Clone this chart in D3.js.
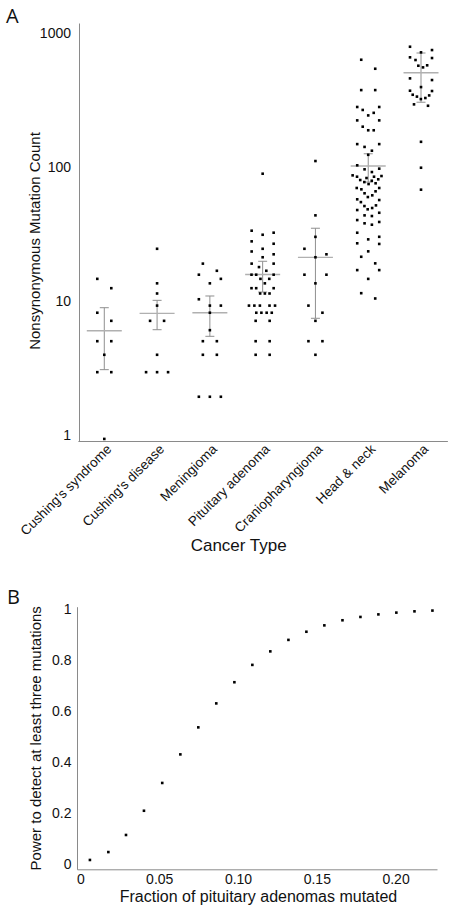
<!DOCTYPE html>
<html>
<head>
<meta charset="utf-8">
<script src="https://cdn.jsdelivr.net/npm/d3@7"></script>
<style>
  body { margin: 0; background: #fff; }
  svg { display: block; }
  text { font-family: "Liberation Sans", Arial, sans-serif; fill: #111; }
</style>
</head>
<body>
<svg id="chart" width="457" height="916"></svg>
<script>
// ---------- Panel A data ----------
const categories = ["Cushing's syndrome", "Cushing's disease", "Meningioma", "Pituitary adenoma",
                    "Craniopharyngioma", "Head & neck", "Melanoma"];

const cushingsSyndrome = [14.71, 12.53, 8.22, 7.15, 5.04, 5.04, 3.99, 2.96, 2.96, 0.94];
const cushingsDisease = [24.66, 13.62, 11.44, 9.29, 7.15, 7.15, 3.99, 2.96, 2.96, 2.96];
const meningioma = [19.11, 16.90, 15.80, 14.71, 13.62, 10.36, 9.29, 9.29, 8.22, 6.09,
                    5.04, 5.04, 3.99, 3.99, 1.94, 1.94, 1.94];
const pituitaryAdenoma = [89.6, 33.65, 32.52, 31.39, 28.02, 26.90, 24.66, 23.55, 22.43, 21.32,
                          19.11, 19.11, 18.01, 16.90, 15.80, 15.80, 15.80, 14.71, 14.71, 13.62,
                          12.53, 12.53, 12.53, 11.44, 11.44, 11.44, 9.29, 9.29, 9.29, 9.29,
                          9.29, 8.22, 8.22, 8.22, 8.22, 7.15, 7.15, 5.04, 5.04, 3.99, 3.99];
const craniopharyngioma = [111.4, 43.8, 30.27, 24.66, 22.43, 21.32, 15.80, 15.80, 13.62, 9.29,
                           8.22, 7.15, 5.04, 5.04, 3.99];
const headAndNeck = [635, 544, 377, 377, 282, 282, 268, 255, 244, 224,
                     224, 201, 189, 189, 149, 149, 142, 133, 124, 103.5,
                     97.7, 96.6, 92.2, 87.1, 86.1, 85.1, 85.1, 83.2, 81.4, 80.4,
                     79.4, 77.6, 76, 75, 70.1, 70.1, 68.5, 66.2, 64, 61.8,
                     60, 57.7, 57, 55, 52, 51.4, 49.7, 48.6, 48, 45.8,
                     43.8, 43.3, 40.4, 39.1, 38.2, 37.3, 32.5, 30.3, 29, 27.1,
                     26.8, 23.6, 21.5, 19.2, 17.1, 17.1, 14.7, 11.5, 10.5];
const melanoma = [794, 750, 721, 662, 654, 632, 577, 573, 557, 461, 448, 397,
                  373, 371, 348, 344, 337, 329, 323, 295, 288, 155, 99.3, 68.1];

const seriesA = [cushingsSyndrome, cushingsDisease, meningioma, pituitaryAdenoma,
                 craniopharyngioma, headAndNeck, melanoma];

const groupMean = [6.03, 8.13, 8.22, 15.85, 21.3, 102.3, 508];
const errLow    = [3.09, 6.14, 5.48, 11.73, 7.47, 77.6, 306];
const errHigh   = [8.96, 10.17, 10.96, 19.9, 35.1, 126.2, 713];

const yTicksA = [1, 10, 100, 1000];
const yTickLabelsA = ["1", "10", "100", "1000"];

// ---------- Panel B data ----------
const fractionMutated = [0.006, 0.0177, 0.0289, 0.0403, 0.0519, 0.0634, 0.0748, 0.0862, 0.0977, 0.1091,
                         0.1205, 0.132, 0.1434, 0.1548, 0.1663, 0.1777, 0.1891, 0.2005, 0.212, 0.2234];
const detectionPower = [0.017, 0.048, 0.115, 0.210, 0.319, 0.431, 0.537, 0.631, 0.714, 0.782,
                        0.835, 0.880, 0.912, 0.937, 0.957, 0.970, 0.980, 0.987, 0.992, 0.995];

const xTicksB = [0, 0.05, 0.10, 0.15, 0.20];
const xTickLabelsB = ["0", "0.05", "0.10", "0.15", "0.20"];
const yTicksB = [0, 0.2, 0.4, 0.6, 0.8, 1];
const yTickLabelsB = ["0", "0.2", "0.4", "0.6", "0.8", "1"];

// ---------- Drawing ----------
const svg = d3.select("#chart");
const axisColor = "#8a8a8a";

function styleAxis(g, fs) {
  g.select(".domain").attr("stroke", axisColor).attr("stroke-width", 1);
  g.selectAll(".tick line").remove();
  g.selectAll(".tick text").attr("font-size", fs).attr("fill", "#111")
    .style("font-family", '"Liberation Sans", Arial, sans-serif');
}

// Panel A
const xA = d3.scaleBand().domain(categories).range([77.9, 447.4]);
const yA = d3.scaleLog().domain([0.907, 1194]).range([441, 23]);

svg.append("g").attr("transform", "translate(79,0)")
  .call(d3.axisLeft(yA).tickValues(yTicksA).tickFormat((d, i) => yTickLabelsA[i])
        .tickSize(0).tickSizeOuter(0).tickPadding(8))
  .call(g => styleAxis(g, 14));

const gxA = svg.append("g").attr("transform", "translate(0,441)")
  .call(d3.axisBottom(xA).tickSize(0).tickSizeOuter(0))
  .call(g => styleAxis(g, 13.5));
gxA.selectAll(".tick text")
  .attr("x", 0).attr("y", 0).attr("dy", 0)
  .attr("text-anchor", "end")
  .attr("transform", "translate(8,9) rotate(-45)");

// means and error bars
seriesA.forEach((vals, i) => {
  const cx = xA(categories[i]) + xA.bandwidth() / 2;
  const g = svg.append("g");
  g.append("line").attr("x1", cx).attr("x2", cx)
    .attr("y1", yA(errLow[i])).attr("y2", yA(errHigh[i]))
    .attr("stroke", "#8f8f8f").attr("stroke-width", 1);
  [errLow[i], errHigh[i]].forEach(v => {
    g.append("line").attr("x1", cx - 4.5).attr("x2", cx + 4.5)
      .attr("y1", yA(v)).attr("y2", yA(v))
      .attr("stroke", "#8f8f8f").attr("stroke-width", 1);
  });
  g.append("line").attr("x1", cx - 17.5).attr("x2", cx + 17.5)
    .attr("y1", yA(groupMean[i])).attr("y2", yA(groupMean[i]))
    .attr("stroke", "#b0b0b0").attr("stroke-width", 1.3);
});

// scatter-dot layout: points binned into rows, each row spread symmetrically
// (outermost slots filled first, giving the chevron look), then overlaps resolved
const rowHeight = 10;
seriesA.forEach((vals, i) => {
  const cx = xA(categories[i]) + xA.bandwidth() / 2;
  const sorted = vals.slice().sort((a, b) => b - a);
  const rows = [];
  sorted.forEach(v => {
    const py = yA(v);
    const row = rows[rows.length - 1];
    if (row && py - row.y0 <= rowHeight) row.items.push(v);
    else rows.push({ y0: py, items: [v] });
  });
  const nodes = [];
  rows.forEach(r => {
    const k = r.items.length;
    const s = k === 1 ? 0 : (k === 2 ? 14 : 22 / (k - 1));
    const order = [];
    for (let a = 0, b = k - 1; a <= b; a++, b--) { order.push(a); if (b !== a) order.push(b); }
    r.items.forEach((v, j) => {
      const slot = order[j];
      nodes.push({ v, x: cx + (slot - (k - 1) / 2) * s, y: yA(v), fy: yA(v) });
    });
  });
  const sim = d3.forceSimulation(nodes)
    .force("collide", d3.forceCollide(2.3).iterations(3))
    .stop();
  for (let k = 0; k < 120; k++) sim.tick();
  svg.append("g").selectAll("rect").data(nodes).join("rect")
    .attr("x", d => d.x - 1.3).attr("y", d => yA(d.v) - 1.3)
    .attr("width", 2.6).attr("height", 2.6).attr("fill", "#000");
});

svg.append("text").attr("transform", "translate(40,241) rotate(-90)")
  .attr("text-anchor", "middle").attr("font-size", 15)
  .text("Nonsynonymous Mutation Count");
svg.append("text").attr("x", 238.7).attr("y", 550.5)
  .attr("text-anchor", "middle").attr("font-size", 17).text("Cancer Type");
svg.append("text").attr("x", 6).attr("y", 23).attr("font-size", 20)
  .style("font-family", '"Open Sans", "Liberation Sans", sans-serif').text("A");

// Panel B
const xB = d3.scaleLinear().domain([-0.0022, 0.2263]).range([77, 437]);
const yB = d3.scaleLinear().domain([-0.0196, 1.0102]).range([869.3, 606.7]);

svg.append("g").attr("transform", "translate(0,869.3)")
  .call(d3.axisBottom(xB).tickValues(xTicksB).tickFormat((d, i) => xTickLabelsB[i])
        .tickSize(0).tickSizeOuter(0).tickPadding(4.5))
  .call(g => styleAxis(g, 14));
svg.append("g").attr("transform", "translate(77,0)")
  .call(d3.axisLeft(yB).tickValues(yTicksB).tickFormat((d, i) => yTickLabelsB[i])
        .tickSize(0).tickSizeOuter(0).tickPadding(5.5))
  .call(g => styleAxis(g, 14));

svg.append("g").selectAll("rect").data(fractionMutated).join("rect")
  .attr("x", (d) => xB(d) - 1.3)
  .attr("y", (d, i) => yB(detectionPower[i]) - 1.3)
  .attr("width", 2.6).attr("height", 2.6).attr("fill", "#000");

svg.append("text").attr("transform", "translate(41,738.3) rotate(-90)")
  .attr("text-anchor", "middle").attr("font-size", 15)
  .text("Power to detect at least three mutations");
svg.append("text").attr("x", 258.5).attr("y", 902)
  .attr("text-anchor", "middle").attr("font-size", 16)
  .text("Fraction of pituitary adenomas mutated");
svg.append("text").attr("x", 7).attr("y", 604).attr("font-size", 20)
  .style("font-family", '"Open Sans", "Liberation Sans", sans-serif').text("B");
</script>
</body>
</html>
